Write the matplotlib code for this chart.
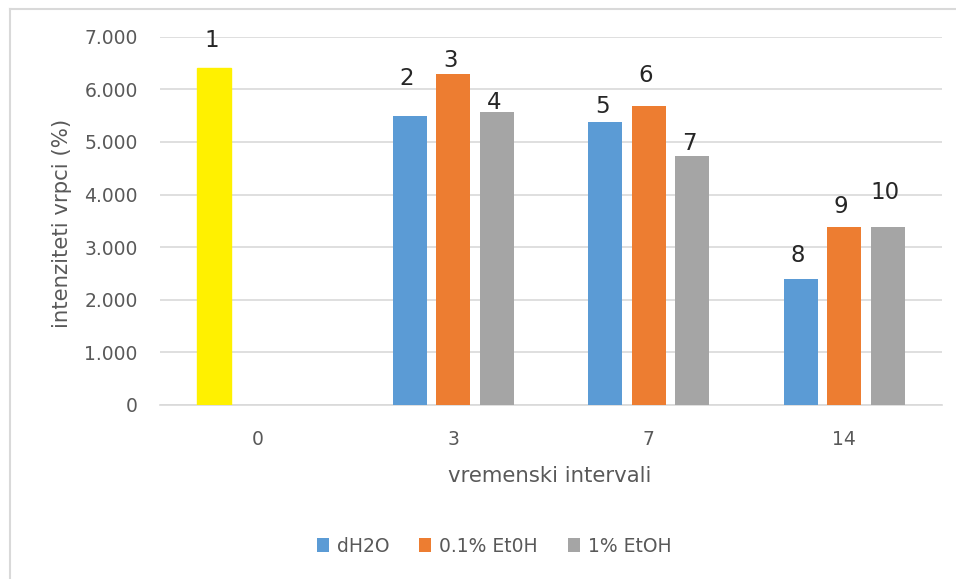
import numpy as np
import matplotlib
matplotlib.use('Agg')
import matplotlib.pyplot as plt
from matplotlib.patches import Patch
from matplotlib.lines import Line2D
from matplotlib.ticker import FuncFormatter

intervali = ['0', '3', '7', '14']
serije = ['dH2O', '0.1% Et0H', '1% EtOH']
dh2o = [6410, 5490, 5380, 2400]
etoh_01 = [0, 6290, 5680, 3390]
etoh_1 = [0, 5560, 4730, 3390]
oznake = [['1', '2', '5', '8'], ['', '3', '6', '9'], ['', '4', '7', '10']]

boje = ['#5B9BD5', '#ED7D31', '#A5A5A5']
zuta = '#FFF100'
# manual label offsets (pixels above bar top), as placed in the original
pomaci = [[27, 38, 15, 23], [0, 14, 31, 20], [0, 10, 13, 34]]

plt.rcParams['font.family'] = ['DejaVu Sans']

fig = plt.figure(figsize=(9.56, 5.79), dpi=100)
ax = fig.add_axes([160 / 956, 1 - 405 / 579, 782 / 956, 368.3 / 579])

x = np.arange(len(intervali))
sirina = 0.174
korak = 0.2225
for i, vrijednosti in enumerate([dh2o, etoh_01, etoh_1]):
  pozicije = x + (i - 1) * korak
  bars = ax.bar(pozicije, vrijednosti, sirina, color=boje[i], zorder=3)
  if i == 0:
    bars[0].set_color(zuta)
  for j, b in enumerate(bars):
    if oznake[i][j] == '':
      continue
    ax.annotate(oznake[i][j], (b.get_x() + b.get_width() / 2, b.get_height()),
                xytext=(-3, pomaci[i][j]), textcoords='offset pixels',
                ha='center', va='center', fontsize=16.5, color='#262626')

ax.set_xlim(-0.5, 3.5)
ax.set_ylim(0, 7000)
ax.set_yticks(range(0, 7001, 1000))
ax.yaxis.set_major_formatter(FuncFormatter(lambda v, p: f'{int(v):,}'.replace(',', '.')))
ax.set_xticks(x)
ax.set_xticklabels(intervali)
ax.grid(axis='y', color='#D9D9D9', linewidth=1.2, zorder=0)
for s in ['top', 'right', 'left']:
  ax.spines[s].set_visible(False)
ax.spines['bottom'].set_color('#D9D9D9')
ax.spines['bottom'].set_linewidth(1.2)
ax.tick_params(axis='both', length=0, labelsize=13.5, colors='#595959')
ax.tick_params(axis='y', pad=16)
ax.tick_params(axis='x', pad=18)

fig.text(550 / 956, 1 - 476 / 579, 'vremenski intervali', ha='center', va='center',
         fontsize=15.3, color='#595959')
fig.text(62 / 956, 1 - 223 / 579, 'intenziteti vrpci (%)', ha='center', va='center',
         rotation=90, fontsize=15.3, color='#595959')

rucke = [Patch(facecolor=boje[k], label=serije[k]) for k in range(3)]
leg = fig.legend(handles=rucke, loc='center', bbox_to_anchor=(494 / 956, 1 - 546 / 579),
                 ncol=3, frameon=False, handlelength=0.64, handleheight=0.7,
                 handletextpad=0.43, columnspacing=1.6, fontsize=13.5)
for t in leg.get_texts():
  t.set_color('#595959')

# chart area border (top and left edges visible)
fig.add_artist(Line2D([10 / 956, 10 / 956], [0, 1 - 9 / 579], color='#D9D9D9', lw=1.5))
fig.add_artist(Line2D([10 / 956, 1], [1 - 9 / 579, 1 - 9 / 579], color='#D9D9D9', lw=1.5))

fig.savefig('out.png', dpi=100)
